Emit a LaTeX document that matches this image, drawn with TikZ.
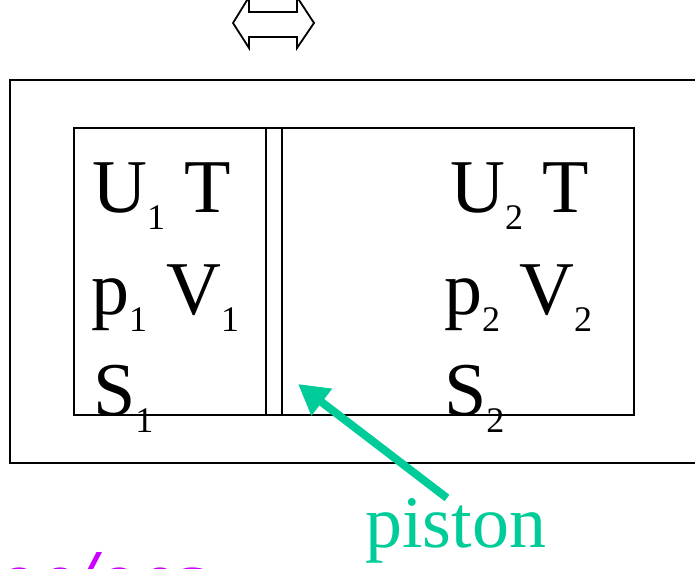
\documentclass[tikz,border=0pt]{standalone}
\usepackage{fontspec}
\setmainfont{Liberation Serif}
\usepackage{tikz}
\usetikzlibrary{arrows.meta}
\definecolor{pistongreen}{RGB}{0,204,153}
\definecolor{notemagenta}{RGB}{204,0,255}
\tikzstyle{wall}=[draw=black, line width=1.8pt]
\tikzstyle{state}=[inner sep=0pt, anchor=base west, font=\fontsize{76}{80}\selectfont]
\tikzstyle{arrow}=[draw=pistongreen, line width=8pt, -{Triangle[length=30pt, width=32pt]}]
\newcommand{\lowsub}[1]{\raisebox{-17pt}{\fontsize{36}{36}\selectfont #1}}

\begin{document}
\begin{tikzpicture}[x=1pt, y=-1pt]
	\useasboundingbox (0,0) rectangle (695,569);
	\begin{scope}
		\clip (0,0) rectangle (695,569);
		% hollow swap arrow, cut at the top
		\draw[wall, line join=miter] (233,23) -- (249,-3) -- (249,12) -- (297,12) -- (297,-3)
			-- (314,23) -- (297,48) -- (297,37) -- (249,37) -- (249,48) -- cycle;
		% container, cylinder and piston
		\draw[wall] (10,80) rectangle (720,463);
		\draw[wall] (74,128) rectangle (634,415);
		\draw[wall] (266,128) rectangle (282,415);
		% left gas
		\node[state] (u1) at (92,213) {U\lowsub{1} T};
		\node[state] (pv1) at (91,314) {p\lowsub{1} V\lowsub{1}};
		\node[state] (s1) at (93,415) {S\lowsub{1}};
		% right gas
		\node[state] (u2) at (450,213) {U\lowsub{2} T};
		\node[state] (pv2) at (444,314) {p\lowsub{2} V\lowsub{2}};
		\node[state] (s2) at (444,415) {S\lowsub{2}};
		% label
		\node[inner sep=0pt, anchor=base west, text=pistongreen, font=\fontsize{74}{80}\selectfont] (lbl) at (365,547) {piston};
		\coordinate (tail) at (447,498);
		\coordinate (tip) at (298,384);
		\draw[arrow] (tail) -- (tip);
		% note at the bottom, cut off
		\node[inner sep=0pt, anchor=base west, text=notemagenta, font=\fontsize{82}{86}\selectfont\bfseries\itshape] (note) at (-4,606.5) {oe/oes};
	\end{scope}
\end{tikzpicture}
\end{document}
